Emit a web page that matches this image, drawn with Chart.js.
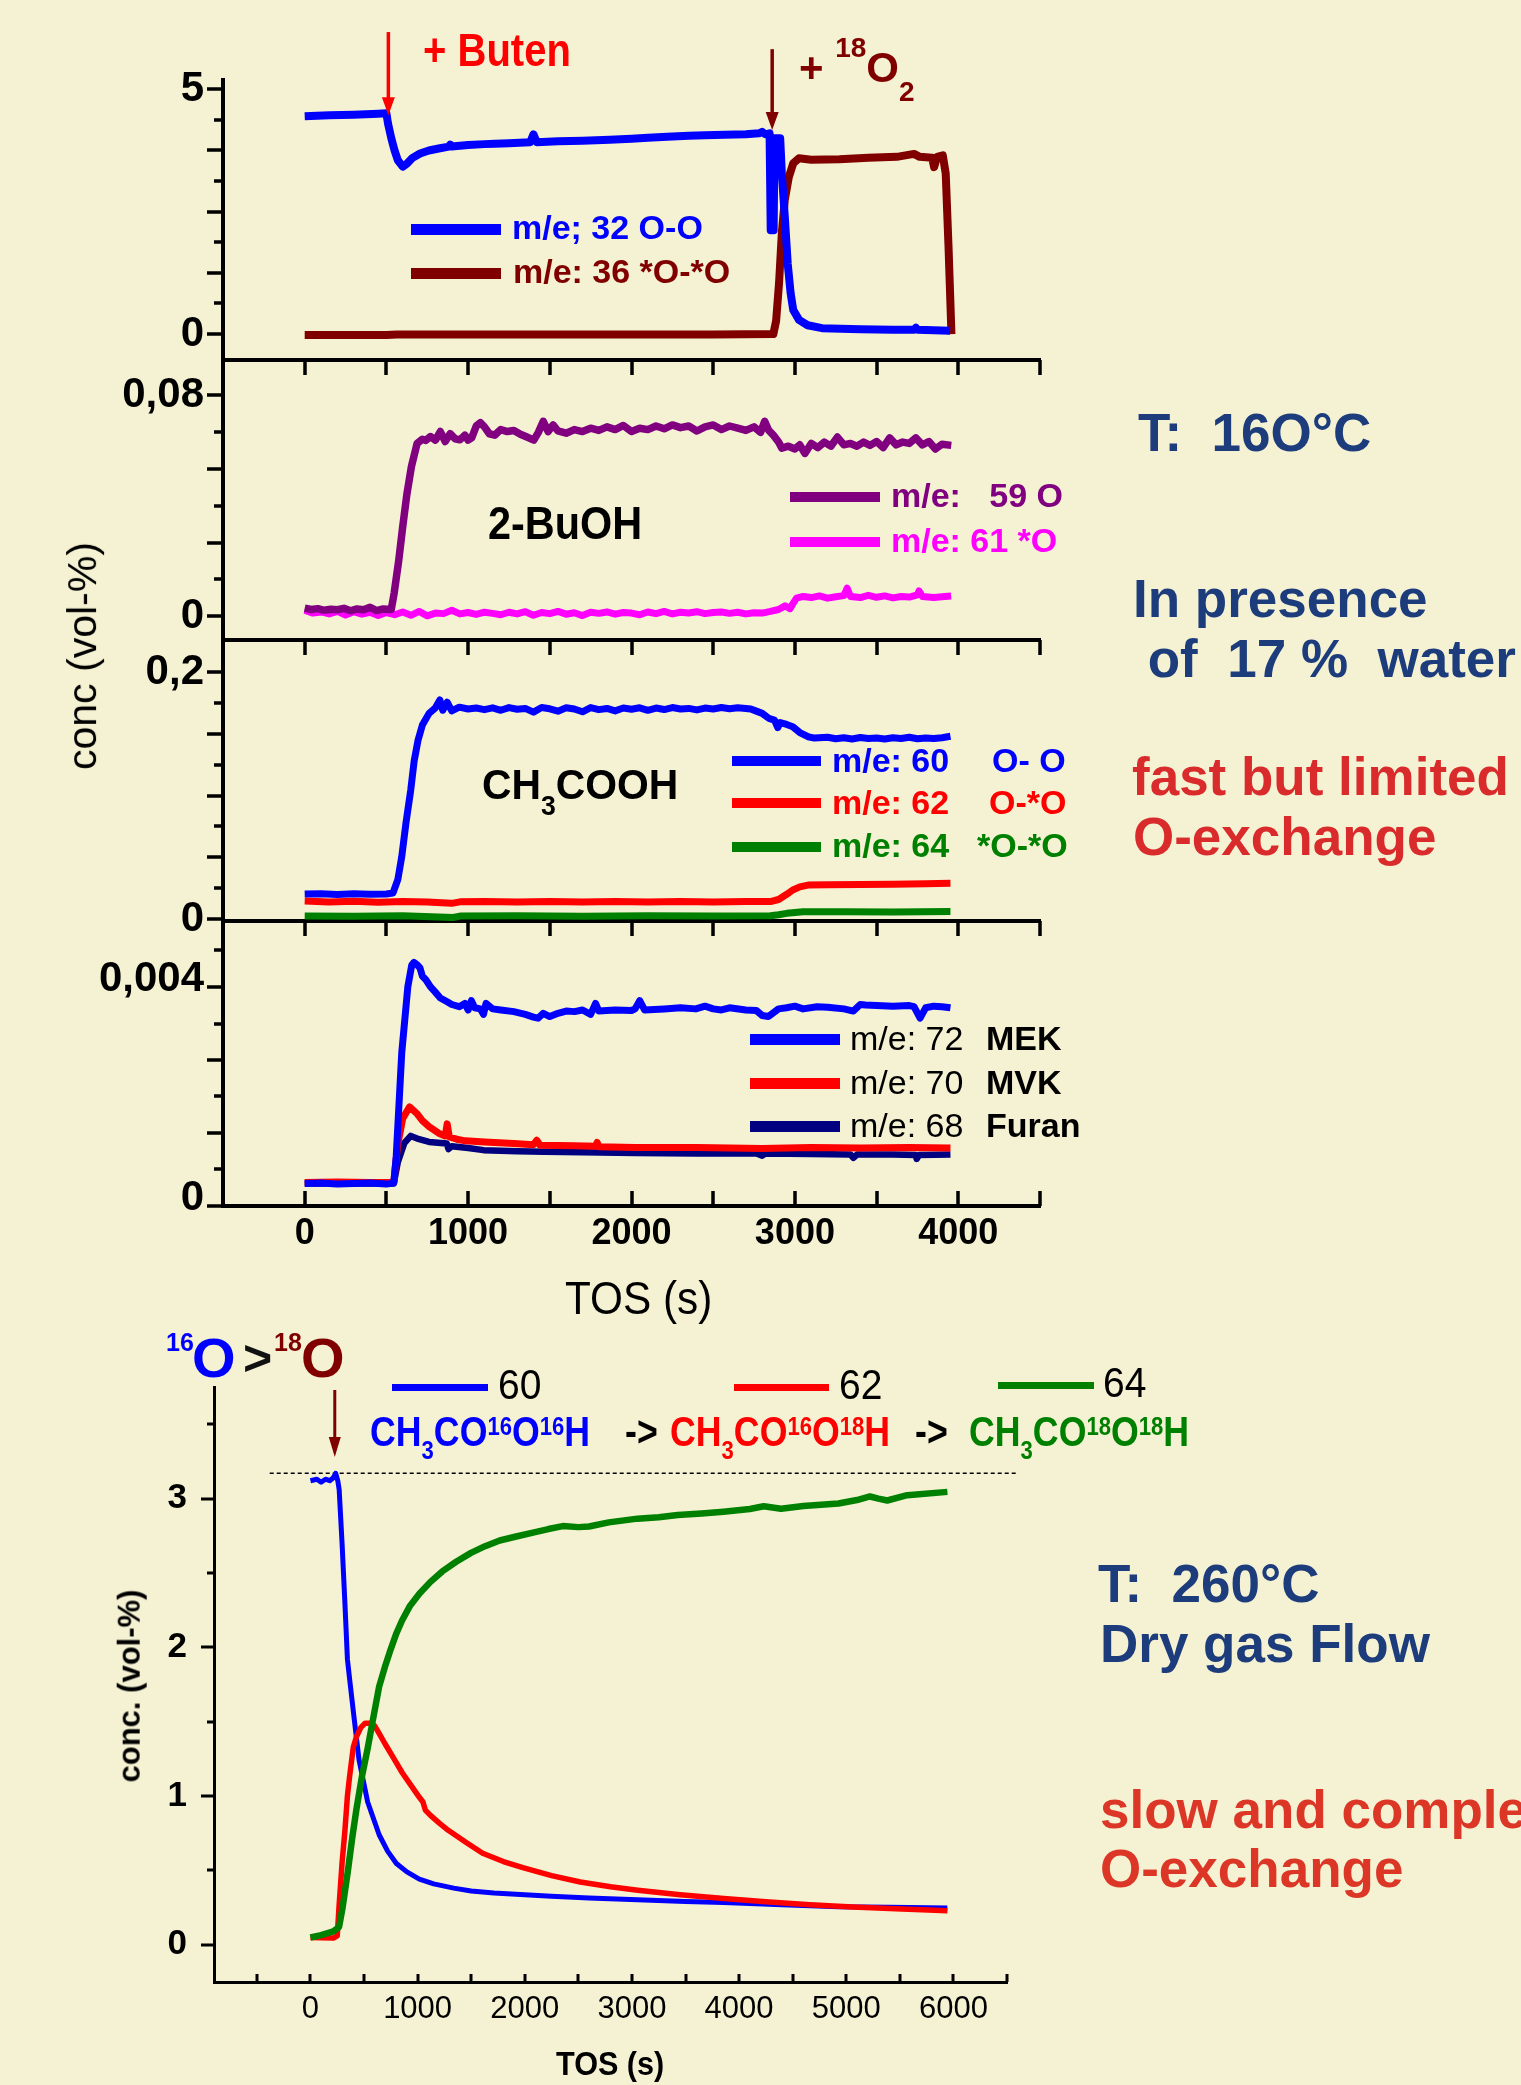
<!DOCTYPE html>
<html><head><meta charset="utf-8">
<script src="https://cdn.jsdelivr.net/npm/chart.js@4.4.0/dist/chart.umd.min.js"></script>
<style>
html,body{margin:0;padding:0;background:#f5f2d3;}
#root{position:relative;width:1521px;height:2085px;overflow:hidden;background:#f5f2d3;font-family:"Liberation Sans",Arial,Helvetica,sans-serif;}
canvas{position:absolute;left:0;}
.t{position:absolute;white-space:pre;line-height:1.117;transform-origin:0 0;}
.sw{position:absolute;}
</style></head>
<body><div id="root">
<canvas id="p1"></canvas><canvas id="p2"></canvas><canvas id="p3"></canvas><canvas id="p4"></canvas><canvas id="pb"></canvas>
</div>
<script>
// ---------------- DATA (TOS in s, conc in vol-%) ----------------
// Panel 1: O2
const s32 = [[0,4.45],[150,4.47],[300,4.48],[450,4.5],[500,4.51],[510,4.3],[530,4.0],[550,3.75],[570,3.55],[600,3.42],[625,3.48],[660,3.6],[706,3.69],[760,3.75],[820,3.79],[882,3.83],[890,3.87],[900,3.83],[1000,3.86],[1100,3.88],[1163,3.89],[1250,3.9],[1380,3.92],[1400,4.08],[1420,3.92],[1550,3.94],[1700,3.95],[1866,3.97],[2000,3.99],[2100,4.01],[2218,4.03],[2350,4.05],[2450,4.06],[2570,4.07],[2700,4.08],[2780,4.1],[2800,4.13],[2820,4.08],[2845,4.1],[2852,2.12],[2870,2.12],[2875,4.0],[2910,4.0],[2920,3.28],[2938,2.4],[2956,1.44],[2974,0.83],[2990,0.49],[3025,0.29],[3078,0.18],[3166,0.12],[3400,0.1],[3600,0.09],[3730,0.09],[3740,0.13],[3750,0.09],[3950,0.07]];
const s36 = [[0,-0.02],[500,-0.02],[565,-0.01],[1000,-0.01],[1500,-0.01],[2000,-0.01],[2500,-0.01],[2868,0],[2885,0.27],[2903,1.04],[2920,2.06],[2938,2.74],[2963,3.21],[2990,3.49],[3025,3.59],[3100,3.56],[3272,3.57],[3450,3.6],[3624,3.62],[3729,3.68],[3764,3.62],[3840,3.6],[3852,3.41],[3870,3.62],[3905,3.65],[3923,3.28],[3940,1.8],[3958,0]];
// Panel 2: 2-BuOH
const s59 = [[0,0.003],[40,0.0025],[80,0.0028],[120,0.0022],[160,0.0026],[200,0.0024],[240,0.0029],[280,0.002],[320,0.0027],[360,0.0024],[400,0.0033],[440,0.0021],[480,0.0027],[530,0.0025],[548,0.0086],[575,0.02],[600,0.0325],[625,0.044],[653,0.0541],[688,0.0625],[720,0.064],[741,0.0636],[770,0.065],[800,0.0637],[830,0.0668],[860,0.0632],[890,0.066],[920,0.0642],[950,0.0638],[980,0.0655],[1000,0.0637],[1022,0.0645],[1050,0.0688],[1075,0.07],[1100,0.0685],[1130,0.066],[1163,0.0655],[1200,0.0675],[1240,0.0668],[1280,0.0672],[1320,0.0658],[1360,0.0648],[1402,0.0637],[1430,0.0665],[1460,0.0705],[1490,0.0668],[1520,0.0692],[1550,0.067],[1600,0.0662],[1650,0.0675],[1700,0.0668],[1750,0.068],[1800,0.0672],[1850,0.0685],[1900,0.0675],[1950,0.069],[2000,0.0668],[2050,0.068],[2100,0.0675],[2150,0.0688],[2200,0.0678],[2250,0.0692],[2300,0.0682],[2350,0.0688],[2400,0.067],[2450,0.0685],[2500,0.0692],[2550,0.0675],[2600,0.0688],[2650,0.068],[2700,0.0672],[2750,0.0685],[2790,0.0665],[2815,0.0705],[2840,0.0672],[2868,0.0655],[2900,0.063],[2920,0.0608],[2960,0.0615],[3000,0.0605],[3030,0.062],[3061,0.0589],[3100,0.0625],[3140,0.061],[3180,0.063],[3220,0.0615],[3260,0.0648],[3300,0.062],[3340,0.0625],[3380,0.0615],[3420,0.063],[3460,0.0618],[3500,0.0632],[3540,0.061],[3580,0.0645],[3620,0.062],[3660,0.063],[3700,0.0625],[3740,0.0645],[3780,0.062],[3820,0.0632],[3860,0.0605],[3900,0.0622],[3957,0.0618]];
const s61 = [[0,0.0022],[50,0.0012],[100,0.0016],[150,0.0009],[200,0.0018],[250,0.0005],[300,0.0017],[350,0.0008],[400,0.0015],[450,0.0003],[500,0.0014],[550,0.0006],[600,0.0016],[650,0.0004],[700,0.0018],[750,0.0002],[800,0.0012],[850,0.001],[900,0.0022],[950,0.0009],[1000,0.0014],[1050,0.0007],[1100,0.0015],[1150,0.0011],[1200,0.0006],[1250,0.0015],[1300,0.0009],[1350,0.0017],[1400,0.0004],[1450,0.0014],[1500,0.001],[1550,0.0018],[1600,0.0008],[1650,0.0013],[1700,0.0003],[1750,0.0015],[1800,0.0011],[1850,0.0016],[1900,0.0008],[1950,0.0014],[2000,0.0012],[2050,0.0006],[2100,0.0016],[2150,0.001],[2200,0.0018],[2250,0.0009],[2300,0.0015],[2350,0.0012],[2400,0.0017],[2450,0.001],[2500,0.0014],[2550,0.0016],[2600,0.0011],[2650,0.0015],[2700,0.0009],[2750,0.0013],[2800,0.0012],[2850,0.0018],[2900,0.0025],[2940,0.0038],[2970,0.0028],[2990,0.0048],[3010,0.0066],[3050,0.0072],[3100,0.0068],[3150,0.0074],[3200,0.0066],[3250,0.0071],[3300,0.0075],[3320,0.0102],[3340,0.0072],[3400,0.0068],[3450,0.0076],[3500,0.0069],[3550,0.0074],[3600,0.0067],[3650,0.0072],[3700,0.007],[3750,0.0078],[3760,0.0092],[3780,0.0072],[3850,0.0068],[3900,0.0071],[3956,0.0074]];
// Panel 3: CH3COOH
const s60 = [[0,0.0202],[100,0.0205],[200,0.0198],[300,0.0204],[400,0.02],[500,0.0203],[540,0.021],[570,0.032],[594,0.0505],[620,0.078],[649,0.1045],[670,0.128],[694,0.145],[720,0.157],[761,0.1665],[800,0.171],[827,0.1773],[845,0.169],[872,0.1755],[900,0.1685],[946,0.1715],[1000,0.17],[1050,0.1708],[1100,0.1695],[1150,0.171],[1200,0.169],[1250,0.1712],[1300,0.1698],[1350,0.1705],[1400,0.1675],[1450,0.1712],[1500,0.1702],[1550,0.1683],[1600,0.171],[1650,0.17],[1700,0.1678],[1750,0.1712],[1800,0.1695],[1850,0.1705],[1900,0.1685],[1950,0.1708],[2000,0.1698],[2050,0.171],[2100,0.169],[2150,0.1708],[2200,0.1696],[2250,0.1712],[2300,0.17],[2350,0.1705],[2400,0.1693],[2450,0.1708],[2500,0.17],[2550,0.1712],[2600,0.1702],[2650,0.171],[2700,0.1705],[2730,0.17],[2760,0.1685],[2800,0.1665],[2840,0.1625],[2875,0.1611],[2895,0.155],[2910,0.159],[2950,0.1575],[2987,0.1557],[3030,0.151],[3080,0.1476],[3120,0.1465],[3200,0.1472],[3250,0.146],[3300,0.1468],[3350,0.1458],[3400,0.147],[3450,0.1462],[3500,0.1466],[3550,0.1458],[3600,0.1468],[3650,0.1462],[3700,0.1472],[3750,0.146],[3800,0.1466],[3850,0.1462],[3900,0.1468],[3952,0.148]];
const s62 = [[0,0.0145],[150,0.0138],[300,0.0143],[450,0.0136],[600,0.0141],[750,0.0137],[900,0.0127],[950,0.0139],[1100,0.0142],[1300,0.0137],[1500,0.0141],[1700,0.0138],[1900,0.0142],[2100,0.0137],[2300,0.0141],[2500,0.0138],[2700,0.0142],[2850,0.0141],[2900,0.0158],[2950,0.02],[2987,0.0235],[3030,0.026],[3080,0.0275],[3200,0.0277],[3400,0.028],[3600,0.0282],[3800,0.0285],[3952,0.0289]];
const s64 = [[0,0.0025],[300,0.0022],[600,0.0026],[909,0.0012],[950,0.0024],[1300,0.0026],[1700,0.0023],[2100,0.0026],[2500,0.0024],[2850,0.0027],[2900,0.0035],[2950,0.0046],[3050,0.0058],[3300,0.0059],[3600,0.0057],[3952,0.006]];
// Panel 4: MEK, MVK, Furan
const s72 = [[0,0.00041],[100,0.00042],[200,0.0004],[300,0.00041],[400,0.00042],[500,0.0004],[545,0.00042],[560,0.0009],[594,0.0028],[631,0.004],[655,0.0044],[668,0.00445],[690,0.0044],[705,0.00435],[720,0.0042],[742,0.00413],[770,0.004],[798,0.00391],[830,0.0038],[872,0.00373],[900,0.00368],[946,0.00364],[980,0.0037],[1000,0.00358],[1020,0.00375],[1040,0.00362],[1075,0.0036],[1094,0.0035],[1110,0.0037],[1150,0.0036],[1200,0.00358],[1280,0.00355],[1350,0.0035],[1400,0.00345],[1428,0.00343],[1460,0.00352],[1500,0.00346],[1550,0.00352],[1600,0.00356],[1651,0.00355],[1700,0.00358],[1750,0.0035],[1780,0.0037],[1800,0.00356],[1900,0.00358],[2000,0.00357],[2022,0.0036],[2050,0.00375],[2080,0.00358],[2200,0.0036],[2300,0.00362],[2393,0.0036],[2450,0.00365],[2500,0.0036],[2550,0.00358],[2600,0.00362],[2700,0.00358],[2764,0.00357],[2800,0.00348],[2838,0.00346],[2900,0.0036],[2949,0.00362],[3000,0.00365],[3050,0.0036],[3135,0.00364],[3200,0.00363],[3300,0.0036],[3358,0.00356],[3400,0.00368],[3432,0.00367],[3500,0.00366],[3600,0.00365],[3700,0.00366],[3729,0.00364],[3766,0.00343],[3800,0.00362],[3850,0.00365],[3900,0.00364],[3952,0.00362]];
const s70 = [[0,0.00043],[200,0.00044],[400,0.00043],[545,0.00043],[568,0.0011],[600,0.0016],[642,0.00181],[686,0.00169],[720,0.00156],[761,0.00145],[820,0.00133],[860,0.00128],[872,0.0015],[885,0.00126],[930,0.00122],[983,0.00119],[1100,0.00117],[1280,0.00114],[1400,0.00112],[1420,0.0012],[1440,0.00111],[1651,0.0011],[1780,0.00109],[1790,0.00116],[1800,0.00108],[2022,0.00107],[2400,0.00107],[2600,0.00106],[2800,0.00105],[3100,0.00107],[3400,0.00106],[3700,0.00107],[3952,0.00106]];
const s68 = [[0,0.00041],[545,0.00041],[570,0.0008],[610,0.00115],[649,0.00128],[700,0.00122],[761,0.00117],[870,0.00114],[880,0.00104],[900,0.00109],[1000,0.00106],[1094,0.00102],[1300,0.001],[1465,0.00099],[1700,0.00098],[2022,0.00097],[2400,0.00096],[2764,0.00096],[2800,0.00092],[2820,0.00096],[3100,0.00095],[3340,0.00094],[3358,0.00088],[3380,0.00094],[3600,0.00094],[3740,0.00093],[3745,0.00086],[3760,0.00093],[3952,0.00094]];
// Bottom chart: acetic acid isotopologues, 260 °C
const b60 = [[0,3.12],[60,3.13],[100,3.11],[140,3.13],[180,3.12],[214,3.14],[235,3.17],[255,3.12],[268,3.06],[295,2.7],[322,2.29],[345,1.92],[365,1.79],[400,1.57],[454,1.24],[534,0.96],[641,0.74],[720,0.63],[802,0.547],[900,0.49],[1016,0.442],[1150,0.41],[1337,0.381],[1500,0.362],[1712,0.348],[2000,0.336],[2248,0.326],[2600,0.314],[3051,0.303],[3500,0.292],[3855,0.284],[4400,0.27],[4925,0.256],[5400,0.252],[5943,0.248]];
const b62 = [[0,0.049],[100,0.047],[214,0.045],[250,0.06],[268,0.27],[295,0.55],[322,0.77],[345,1.0],[365,1.13],[400,1.33],[430,1.4],[470,1.46],[510,1.49],[560,1.49],[601,1.47],[650,1.41],[697,1.35],[780,1.25],[858,1.155],[940,1.07],[1018,0.99],[1050,0.96],[1072,0.906],[1120,0.87],[1200,0.82],[1286,0.77],[1450,0.69],[1607,0.616],[1800,0.56],[1982,0.519],[2250,0.465],[2518,0.422],[2800,0.39],[3054,0.367],[3450,0.337],[3857,0.311],[4250,0.29],[4660,0.27],[5060,0.255],[5462,0.243],[5944,0.229]];
const b64 = [[0,0.049],[100,0.065],[214,0.09],[267,0.12],[300,0.25],[348,0.49],[390,0.72],[428,0.906],[480,1.13],[534,1.32],[590,1.54],[641,1.736],[700,1.88],[748,1.985],[800,2.09],[855,2.18],[930,2.28],[1016,2.36],[1120,2.44],[1230,2.51],[1360,2.575],[1498,2.635],[1630,2.68],[1766,2.718],[1920,2.745],[2087,2.773],[2220,2.795],[2355,2.815],[2500,2.808],[2600,2.812],[2784,2.84],[3051,2.865],[3250,2.875],[3427,2.89],[3650,2.9],[3855,2.912],[4100,2.93],[4230,2.948],[4391,2.931],[4600,2.95],[4927,2.967],[5100,2.99],[5221,3.014],[5300,3.0],[5382,2.987],[5569,3.023],[5944,3.045]];
const bRef = [[-380,3.17],[6600,3.17]];
// event arrows (TOS, conc from -> to)
const topArrows = [{x:512, y0:6.17, y1:4.47, c:'#ff0000'}, {x:2861, y0:5.82, y1:4.17, c:'#800000'}];
const botArrows = [{x:227, y0:3.73, y1:3.28, c:'#800000'}];
// ticks
const xTicksTop = [-500,0,500,1000,1500,2000,2500,3000,3500,4000,4500];
const xLabelsTop = ['','0','','1000','','2000','','3000','','4000',''];
const p1YTicks = [0,0.625,1.25,1.875,2.5,3.125,3.75,4.375,5];
const p1YLabels = ['0','','','','','','','','5'];
const p2YTicks = [0,0.013333,0.026667,0.04,0.053333,0.066667,0.08];
const p2YLabels = ['0','','','','','','0,08'];
const p3YTicks = [0,0.025,0.05,0.075,0.1,0.125,0.15,0.175,0.2];
const p3YLabels = ['0','','','','','','','','0,2'];
const p4YTicks = [0,0.000667,0.001333,0.002,0.002667,0.003333,0.004,0.004667];
const p4YLabels = ['0','','','','','','0,004',''];
const bXTicks = [-500,0,500,1000,1500,2000,2500,3000,3500,4000,4500,5000,5500,6000,6500];
const bXLabels = ['','0','','1000','','2000','','3000','','4000','','5000','','6000',''];
const bYTicks = [0,0.5,1,1.5,2,2.5,3,3.5];
const bYLabels = ['0','','1','','2','','3',''];

// ---------------- RENDERING ----------------
const FONT = '"Liberation Sans", Arial, Helvetica, sans-serif';
const root = document.getElementById('root');

const axisTicks = {
  id: 'axisTicks',
  afterDraw(chart, args, o) {
    const ctx = chart.ctx, xs = chart.scales.x, ys = chart.scales.y;
    ctx.save(); ctx.strokeStyle = '#000'; ctx.lineWidth = o.w; ctx.lineCap = 'butt';
    ctx.beginPath();
    ys.ticks.forEach((t, i) => {
      const p = Math.round(ys.getPixelForValue(t.value));
      const L = i % 2 === 0 ? o.yMaj : o.yMin;
      ctx.moveTo(ys.right, p); ctx.lineTo(ys.right - L, p);
    });
    xs.ticks.forEach(t => {
      const p = Math.round(xs.getPixelForValue(t.value));
      ctx.moveTo(p, xs.top); ctx.lineTo(p, xs.top + o.xLen);
    });
    ctx.stroke(); ctx.restore();
  }
};
const arrows = {
  id: 'arrows',
  afterDraw(chart, args, o) {
    const ctx = chart.ctx, xs = chart.scales.x, ys = chart.scales.y;
    (o.list || []).forEach(a => {
      const x = xs.getPixelForValue(a.x), y0 = ys.getPixelForValue(a.y0), y1 = ys.getPixelForValue(a.y1);
      const hl = o.hl, hw = o.hw;
      ctx.save(); ctx.strokeStyle = a.c; ctx.fillStyle = a.c; ctx.lineWidth = o.lw;
      ctx.beginPath(); ctx.moveTo(x, y0); ctx.lineTo(x, y1 - hl + 2); ctx.stroke();
      ctx.beginPath(); ctx.moveTo(x - hw, y1 - hl); ctx.lineTo(x + hw, y1 - hl); ctx.lineTo(x, y1); ctx.closePath(); ctx.fill();
      ctx.restore();
    });
  }
};

function make(id, o) {
  const cv = document.getElementById(id);
  const H = o.padTop + (o.bottom - o.top) + o.axisH + o.padBottom;
  cv.width = o.canvasW; cv.height = H;
  cv.style.width = o.canvasW + 'px'; cv.style.height = H + 'px';
  cv.style.top = (o.top - o.padTop) + 'px';
  const ds = o.series.map(s => ({
    data: s.d.map(([x, y]) => ({x, y})), borderColor: s.c, backgroundColor: s.c, borderWidth: s.w,
    pointRadius: 0, tension: 0, fill: false, borderJoinStyle: 'round', borderCapStyle: 'butt',
    borderDash: s.dash || [], clip: s.noclip ? false : undefined
  }));
  new Chart(cv, {
    type: 'line',
    data: {datasets: ds},
    options: {
      responsive: false, animation: false, devicePixelRatio: 1, events: [],
      layout: {padding: {left: 0, top: o.padTop, right: o.canvasW - o.right, bottom: o.padBottom}},
      plugins: {legend: {display: false}, tooltip: {enabled: false}, axisTicks: o.tk, arrows: o.ar || {list: []}},
      scales: {
        x: {
          type: 'linear', min: o.xMin, max: o.xMax,
          afterBuildTicks: s => { s.ticks = o.xTicks.map(v => ({value: v})); },
          afterFit: s => { s.height = o.axisH; s.paddingLeft = 0; s.paddingRight = 0; s.paddingTop = 0; s.paddingBottom = 0; },
          grid: {display: false, drawTicks: false},
          border: {display: true, color: '#000', width: o.bw},
          ticks: {display: o.showX, autoSkip: false, maxRotation: 0, minRotation: 0, padding: o.xPad || 0, color: '#000', font: o.xFont, callback: (v, i) => o.xLabels[i]}
        },
        y: {
          type: 'linear', min: o.yMin, max: o.yMax,
          afterBuildTicks: s => { s.ticks = o.yTicks.map(v => ({value: v})); },
          afterFit: s => { s.width = o.left; s.paddingTop = 0; s.paddingBottom = 0; s.paddingLeft = 0; s.paddingRight = 0; },
          grid: {display: false, drawTicks: false},
          border: {display: true, color: '#000', width: o.bw},
          ticks: {autoSkip: false, padding: o.yPad, labelOffset: o.yOff || 0, color: '#000', font: o.yFont, callback: (v, i) => o.yLabels[i]}
        }
      }
    },
    plugins: [axisTicks, arrows]
  });
}

const topCommon = {left: 223, right: 1040, canvasW: 1060, xMin: -500, xMax: 4500, xTicks: xTicksTop, xLabels: xLabelsTop,
  bw: 4, yPad: 19, yFont: {family: FONT, size: 42, weight: 'bold'}, xFont: {family: FONT, size: 36, weight: 'bold'},
  tk: {w: 3.5, yMaj: 16, yMin: 9, xLen: 15}};

make('p1', Object.assign({}, topCommon, {top: 80, bottom: 360, padTop: 80, axisH: 0, padBottom: 20, showX: false,
  yMin: -0.53, yMax: 5.19, yTicks: p1YTicks, yLabels: p1YLabels,
  ar: {list: topArrows, hl: 18, hw: 6.5, lw: 3.5},
  series: [{d: s32, c: '#0000ff', w: 8}, {d: s36, c: '#800000', w: 8}]}));
make('p2', Object.assign({}, topCommon, {top: 360, bottom: 640, padTop: 10, axisH: 0, padBottom: 20, showX: false,
  yMin: -0.00853, yMax: 0.09265, yTicks: p2YTicks, yLabels: p2YLabels,
  series: [{d: s59, c: '#800080', w: 7.5}, {d: s61, c: '#ff00ff', w: 7}]}));
make('p3', Object.assign({}, topCommon, {top: 640, bottom: 921, padTop: 10, axisH: 0, padBottom: 20, showX: false,
  yMin: -0.0016, yMax: 0.2259, yTicks: p3YTicks, yLabels: p3YLabels,
  series: [{d: s60, c: '#0000ff', w: 7}, {d: s62, c: '#ff0000', w: 7}, {d: s64, c: '#008000', w: 7}]}));
make('p4', Object.assign({}, topCommon, {top: 921, bottom: 1206, padTop: 10, axisH: 100, padBottom: 0, showX: true, xPad: 6,
  yMin: 0, yMax: 0.005205, yTicks: p4YTicks, yLabels: p4YLabels, yOff: -8,
  tk: {w: 3.5, yMaj: 16, yMin: 9, xLen: -15},
  series: [{d: s72, c: '#0000ff', w: 7}, {d: s70, c: '#ff0000', w: 7}, {d: s68, c: '#000080', w: 6.5}]}));
make('pb', {top: 1387, bottom: 1982, left: 214, right: 1007, canvasW: 1030, padTop: 87, axisH: 100, padBottom: 0,
  xMin: -900, xMax: 6500, xTicks: bXTicks, xLabels: bXLabels, showX: true, xPad: 9,
  yMin: -0.25, yMax: 3.75, yTicks: bYTicks, yLabels: bYLabels,
  bw: 3, yPad: 27, yFont: {family: FONT, size: 35, weight: 'bold'}, xFont: {family: FONT, size: 31, weight: 'normal'},
  tk: {w: 3, yMaj: 13, yMin: 7, xLen: -8},
  ar: {list: botArrows, hl: 20, hw: 6, lw: 3},
  series: [{d: b64, c: '#008000', w: 6.5}, {d: b62, c: '#ff0000', w: 5.5}, {d: b60, c: '#0000ff', w: 5},
           {d: bRef, c: '#000000', w: 1.5, dash: [4, 3], noclip: true}]});

// ---------------- TEXT ----------------
function T(html, x, base, fs, color, weight, sx) {
  const e = document.createElement('div'); e.className = 't';
  e.innerHTML = html;
  e.style.left = x + 'px'; e.style.top = (base - 0.905 * fs) + 'px';
  e.style.fontSize = fs + 'px'; e.style.color = color; e.style.fontWeight = weight || 'bold';
  if (sx && sx !== 1) e.style.transform = 'scaleX(' + sx + ')';
  root.appendChild(e); return e;
}
function R(html, cx, cy, fs, weight) {
  const e = document.createElement('div'); e.className = 't';
  e.innerHTML = html; e.style.left = cx + 'px'; e.style.top = cy + 'px';
  e.style.fontSize = fs + 'px'; e.style.color = '#000'; e.style.fontWeight = weight;
  e.style.transformOrigin = '50% 50%'; e.style.transform = 'translate(-50%,-50%) rotate(-90deg)';
  root.appendChild(e);
}
function S(x1, x2, y, h, c) {
  const e = document.createElement('div'); e.className = 'sw';
  e.style.left = x1 + 'px'; e.style.width = (x2 - x1) + 'px'; e.style.top = (y - h / 2) + 'px'; e.style.height = h + 'px'; e.style.background = c;
  root.appendChild(e);
}
const ss = (t, fs, dy) => '<span style="font-size:' + fs + 'px;position:relative;top:' + dy + 'px">' + t + '</span>';

// top panel annotations
T('+ Buten', 423, 67, 46, '#ff0000', 'bold', 0.87);
T('+ ' + ss('18', 28, -25) + 'O' + ss('2', 28, 19), 799, 83, 42, '#800000', 'bold');
S(411, 501, 229, 11, '#0000ff'); T('m/e; 32 O-O', 512, 240, 34, '#0000ff');
S(411, 501, 273, 11, '#800000'); T('m/e: 36 *O-*O', 513, 284, 34, '#800000');
T('2-BuOH', 488, 540, 46, '#000', 'bold', 0.9);
S(790, 880, 497, 10, '#800080'); T('m/e:   59 O', 891, 508, 34, '#800080');
S(790, 880, 542, 10, '#ff00ff'); T('m/e: 61 *O', 891, 553, 34, '#ff00ff');
T('CH' + ss('3', 28, 16) + 'COOH', 482, 799, 43, '#000', 'bold', 0.95);
S(732, 821, 761, 10, '#0000ff'); T('m/e: 60', 832, 773, 34, '#0000ff'); T('O- O', 992, 773, 34, '#0000ff');
S(732, 821, 803, 10, '#ff0000'); T('m/e: 62', 832, 815, 34, '#ff0000'); T('O-*O', 989, 815, 34, '#ff0000');
S(732, 821, 847, 10, '#008000'); T('m/e: 64', 832, 858, 34, '#008000'); T('*O-*O', 977, 858, 34, '#008000');
S(750, 840, 1039, 11, '#0000ff'); T('m/e: 72', 850, 1051, 34, '#000', 'normal'); T('MEK', 986, 1051, 34, '#000');
S(750, 840, 1083, 11, '#ff0000'); T('m/e: 70', 850, 1095, 34, '#000', 'normal'); T('MVK', 986, 1095, 34, '#000');
S(750, 840, 1126, 11, '#000080'); T('m/e: 68', 850, 1138, 34, '#000', 'normal'); T('Furan', 986, 1138, 34, '#000');
T('TOS (s)', 565, 1315, 46, '#000', 'normal', 0.92);
R('conc (vol-%)', 83, 656, 41, 'normal');

// right-side notes
const navy = '#1c3c7c', red1 = '#d92b2b', red2 = '#dc3627';
T('T:  16O°C', 1138, 451, 53, navy);
T('In presence', 1133, 617, 53, navy);
T(' of  17 %  water', 1133, 677, 53, navy);
T('fast but limited', 1132, 795, 53, red1);
T('O-exchange', 1133, 855, 53, red1);
T('T:  260°C', 1098, 1602, 53, navy);
T('Dry gas Flow', 1100, 1662, 53, navy);
T('slow and complete', 1100, 1828, 53, red2);
T('O-exchange', 1100, 1887, 53, red2);

// bottom chart header
T('16', 166, 1352, 25, '#0000ff'); T('O', 192, 1378, 56, '#0000ff');
T('&gt;', 243, 1376, 50, '#111');
T('18', 274, 1352, 25, '#800000'); T('O', 301, 1378, 56, '#800000');
S(392, 488, 1387, 7, '#0000ff'); T('60', 498, 1400, 42, '#000', 'normal', 0.93);
S(734, 829, 1387, 7, '#ff0000'); T('62', 839, 1400, 42, '#000', 'normal', 0.93);
S(998, 1094, 1385, 7, '#008000'); T('64', 1103, 1398, 42, '#000', 'normal', 0.93);
const f = (a, b) => 'CH' + ss('3', 26, 13) + 'CO' + ss(a, 26, -11) + 'O' + ss(b, 26, -11) + 'H';
T(f('16', '16'), 370, 1447, 42, '#0000ff', 'bold', 0.85);
T('-&gt;', 625, 1447, 42, '#000', 'bold', 0.85);
T(f('16', '18'), 670, 1447, 42, '#ff0000', 'bold', 0.85);
T('-&gt;', 915, 1447, 42, '#000', 'bold', 0.85);
T(f('18', '18'), 969, 1447, 42, '#008000', 'bold', 0.85);
R('conc. (vol-%)', 130, 1686, 31, 'bold');
T('TOS (s)', 556, 2076, 34, '#000', 'bold', 0.9);
</script>
</body></html>
